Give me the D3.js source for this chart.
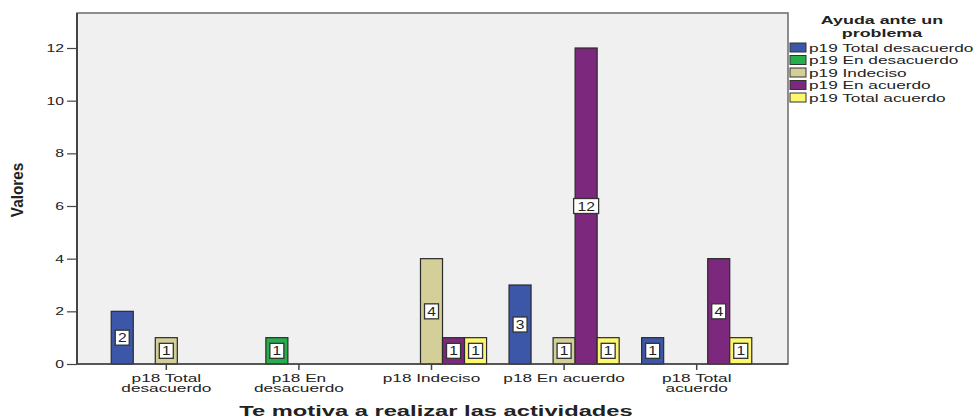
<!DOCTYPE html>
<html><head><meta charset="utf-8">
<script src="https://cdn.jsdelivr.net/npm/d3@7"></script>
<style>
body{margin:0;background:#fff}
text{font-family:"Liberation Sans",Arial,sans-serif;fill:#222}
</style></head>
<body><svg id="c" width="974" height="419"></svg>
<script>
// ---- data ----
const categories = ["p18 Total desacuerdo","p18 En desacuerdo","p18 Indeciso","p18 En acuerdo","p18 Total acuerdo"];
const categoryLines = [["p18 Total","desacuerdo"],["p18 En","desacuerdo"],["p18 Indeciso"],["p18 En acuerdo"],["p18 Total","acuerdo"]];
const seriesNames = ["p19 Total desacuerdo","p19 En desacuerdo","p19 Indeciso","p19 En acuerdo","p19 Total acuerdo"];
const seriesColors = ["#3c56a8","#25ae4b","#d4cf98","#7c287d","#fcf76f"];
const totalDesacuerdo = [2,0,0,3,1];
const enDesacuerdo   = [0,1,0,0,0];
const indeciso       = [1,0,4,1,0];
const enAcuerdo      = [0,0,1,12,4];
const totalAcuerdo   = [0,0,1,1,1];
const yTicks = [0,2,4,6,8,10,12];
const legendTitle = ["Ayuda ante un","problema"];
const xTitle = "Te motiva a realizar las actividades";
const yTitle = "Valores";

const seriesValues = [totalDesacuerdo,enDesacuerdo,indeciso,enAcuerdo,totalAcuerdo];

// ---- layout ----
const svg = d3.select("#c");
const plot = {left:77, top:13, right:788, bottom:364};

const y = d3.scaleLinear().domain([0,12]).range([plot.bottom, 48]);
const x0 = d3.scaleBand().domain(categories).range([100, 763]).padding(0);
const x1 = d3.scaleBand().domain(seriesNames).range([0, x0.bandwidth()]).paddingInner(0).paddingOuter(0.51);

function stretch(sel, f){
  sel.each(function(){
    const w = this.getComputedTextLength();
    this.setAttribute("textLength", w*f);
    this.setAttribute("lengthAdjust","spacingAndGlyphs");
  });
}

// plot background
svg.append("rect").attr("x",plot.left).attr("y",plot.top)
  .attr("width",plot.right-plot.left).attr("height",plot.bottom-plot.top)
  .attr("fill","#f0f0f0").attr("stroke","#6a6a6a").attr("stroke-width",1.5);

// bars
const rows = [];
categories.forEach((c,i)=>seriesNames.forEach((s,j)=>rows.push({c, s, j, v: seriesValues[j][i]})));
const g = svg.append("g");
g.selectAll("rect.bar").data(rows).join("rect").attr("class","bar")
  .attr("x",d=>x0(d.c)+x1(d.s)).attr("width",x1.bandwidth())
  .attr("y",d=>y(d.v)).attr("height",d=>y(0)-y(d.v))
  .attr("fill",d=>seriesColors[d.j]).attr("stroke","#2a2a2a").attr("stroke-width",1.2);

// value labels
const lab = g.selectAll("g.lab").data(rows.filter(d=>d.v>0)).join("g").attr("class","lab")
  .attr("transform",d=>`translate(${x0(d.c)+x1(d.s)+x1.bandwidth()/2},${(y(d.v)+y(0))/2})`);
lab.append("rect").attr("x",d=>d.v>=10?-12.5:-7).attr("y",-7.5)
  .attr("width",d=>d.v>=10?25:14).attr("height",15)
  .attr("fill","#fff").attr("stroke","#333").attr("stroke-width",1.3);
lab.append("text").attr("text-anchor","middle").attr("y",4.5)
  .attr("font-size",12).text(d=>d.v).call(stretch,1.3);

// y axis
const ya = svg.append("g").attr("transform",`translate(${plot.left},0)`)
  .call(d3.axisLeft(y).tickValues(yTicks).tickSize(10).tickPadding(3));
ya.select(".domain").remove();
ya.selectAll("line").attr("stroke","#444").attr("stroke-width",1.2);
ya.selectAll("text").attr("font-size",10.5).attr("font-family","'Liberation Sans',Arial,sans-serif").attr("fill","#222").call(stretch,1.5);
svg.append("line").attr("x1",plot.left).attr("x2",plot.left).attr("y1",plot.top).attr("y2",plot.bottom)
  .attr("stroke","#444").attr("stroke-width",2);

// x axis
svg.append("line").attr("x1",plot.left).attr("x2",plot.right).attr("y1",plot.bottom).attr("y2",plot.bottom)
  .attr("stroke","#444").attr("stroke-width",1.5);
const xt = svg.append("g").selectAll("g").data(categories).join("g")
  .attr("transform",d=>`translate(${x0(d)+x0.bandwidth()/2},${plot.bottom})`);
xt.append("line").attr("y2",6).attr("stroke","#444").attr("stroke-width",1.5);
xt.each(function(d,i){
  d3.select(this).selectAll("text").data(categoryLines[i]).join("text")
    .attr("text-anchor","middle").attr("y",(t,k)=>17.5+k*10.3).attr("font-size",10).text(t=>t)
    .call(stretch,1.72);
});

// axis titles
svg.append("text").attr("x",436).attr("y",416).attr("text-anchor","middle")
  .attr("font-size",15).attr("font-weight","bold").text(xTitle).call(stretch,1.58);
svg.append("text").attr("transform","translate(23,190) rotate(-90)").attr("text-anchor","middle")
  .attr("font-size",17).attr("font-weight","bold").text(yTitle).call(stretch,0.9);

// legend
svg.selectAll("text.lt").data(legendTitle).join("text").attr("class","lt")
  .attr("x",882).attr("y",(d,i)=>24+i*12.5).attr("text-anchor","middle")
  .attr("font-size",10.5).attr("font-weight","bold").text(d=>d).call(stretch,1.7);
const lg = svg.append("g").selectAll("g").data(seriesNames).join("g")
  .attr("transform",(d,i)=>`translate(790,${43+i*12.5})`);
lg.append("rect").attr("width",16).attr("height",9).attr("fill",(d,i)=>seriesColors[i])
  .attr("stroke","#333").attr("stroke-width",1);
lg.append("text").attr("x",19).attr("y",8.5).attr("font-size",10.5).text(d=>d).call(stretch,1.64);
</script></body></html>
